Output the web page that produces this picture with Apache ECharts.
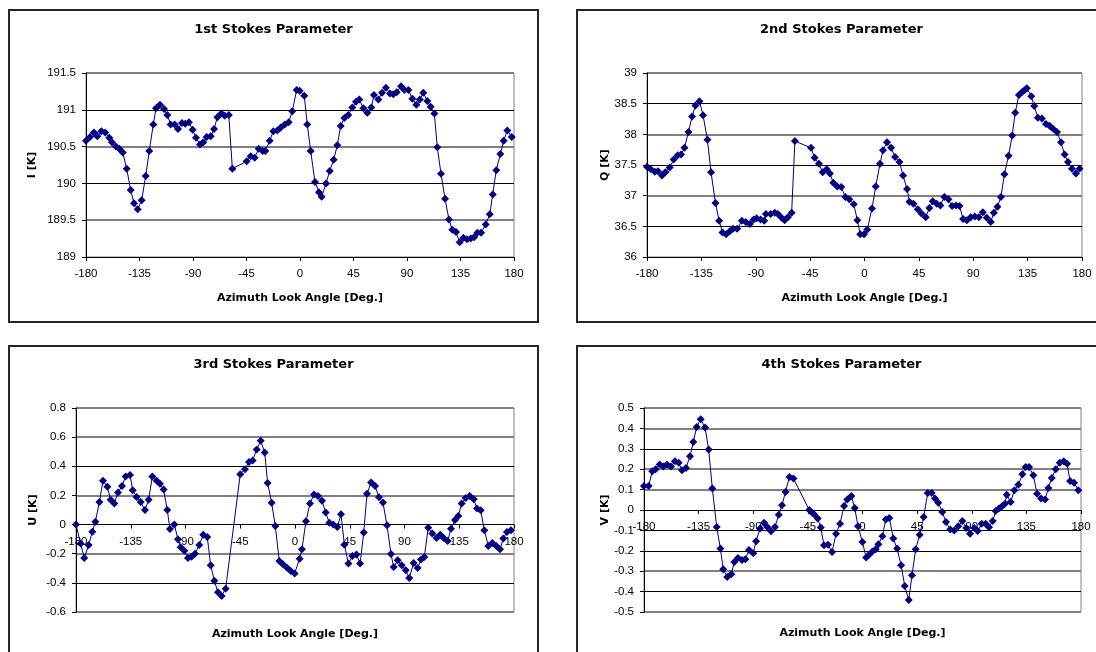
<!DOCTYPE html>
<html>
<head>
<meta charset="utf-8">
<script src="https://cdn.jsdelivr.net/npm/echarts@6/dist/echarts.min.js"></script>
<style>
  html, body { margin: 0; padding: 0; background: #fff; }
  #chart { width: 1096px; height: 652px; }
</style>
</head>
<body>
<div id="chart"></div>
<script>
// Azimuth look angles [deg] and the four Stokes parameters [K]

const azimuthI = [
  -180, -176.6, -173.3, -170.5, -167.1, -163.8, -160.4, -158.2, -154.8, -152,
  -149.1, -145.8, -142.4, -139.6, -136.5, -133.2, -129.8, -126.8, -123.4, -121.1,
  -117.8, -114.4, -111.6, -108.8, -105.4, -102.6, -99.3, -96.5, -93.4, -90.3,
  -87.5, -84.1, -81.3, -78.5, -75.1, -72.3, -69.5, -66.1, -63.3, -59.9,
  -56.9, -44.9, -41.5, -38.1, -34.8, -31.4, -29.2, -25.5, -22.4, -19.1,
  -16.2, -12.9, -9.5, -6.5, -2.8, -0.3, 3.6, 6.1, 9.0, 12.6,
  16.0, 18.2, 21.9, 25.0, 28.3, 31.4, 34.2, 37.3, 40.6, 44.0,
  47.1, 49.9, 53.3, 56.6, 60.0, 62.2, 65.9, 69.0, 72.3, 75.7,
  78.5, 81.3, 85.0, 87.8, 91.2, 94.5, 97.9, 100.7, 103.7, 107.1,
  109.9, 113.0, 115.5, 118.6, 122.0, 125.3, 128.1, 131.2, 134.3, 137.4,
  140.5, 143.6, 146.4, 149.2, 152.3, 156.2, 159.6, 162.1, 165.1, 168.5,
  171.3, 174.4, 178.1
];
const stokesI = [
  190.58, 190.63, 190.69, 190.64, 190.71, 190.69, 190.62, 190.56, 190.50, 190.47,
  190.42, 190.20, 189.91, 189.73, 189.65, 189.77, 190.10, 190.44, 190.80, 191.02,
  191.07, 191.01, 190.93, 190.80, 190.80, 190.74, 190.82, 190.81, 190.83, 190.73,
  190.62, 190.53, 190.56, 190.63, 190.64, 190.74, 190.90, 190.95, 190.92, 190.93,
  190.20, 190.30, 190.37, 190.35, 190.47, 190.44, 190.44, 190.58, 190.71, 190.72,
  190.76, 190.80, 190.83, 190.98, 191.27, 191.26, 191.19, 190.80, 190.44, 190.02,
  189.88, 189.82, 190.00, 190.17, 190.32, 190.52, 190.78, 190.89, 190.93, 191.03,
  191.11, 191.14, 191.02, 190.96, 191.03, 191.20, 191.14, 191.23, 191.30, 191.22,
  191.21, 191.24, 191.32, 191.27, 191.27, 191.15, 191.07, 191.14, 191.23, 191.12,
  191.04, 190.95, 190.49, 190.13, 189.79, 189.51, 189.37, 189.34, 189.20, 189.26,
  189.24, 189.25, 189.27, 189.33, 189.33, 189.44, 189.58, 189.85, 190.18, 190.40,
  190.58, 190.72, 190.63
];

const azimuthQ = [
  -180, -176.9, -173.6, -170.9, -167.6, -164.8, -161.2, -157.9, -154.6, -151.8,
  -149.0, -145.7, -142.7, -139.9, -136.6, -133.6, -130.0, -127.0, -123.3, -120.3,
  -117.5, -114.5, -111.5, -108.7, -105.4, -101.5, -98.2, -94.9, -91.8, -89.3,
  -86.0, -83.0, -81.6, -77.7, -74.2, -71.7, -68.6, -66.1, -63.4, -60.3,
  -57.6, -44.3, -41.3, -37.7, -34.6, -31.3, -28.6, -25.8, -22.5, -19.2,
  -15.9, -12.6, -8.9, -5.9, -3.5, -0.4, 2.3, 6.2, 9.3, 12.8,
  15.3, 18.6, 22.0, 25.3, 28.9, 31.9, 35.2, 37.2, 40.5, 44.1,
  47.1, 50.7, 53.7, 56.5, 59.8, 62.8, 66.1, 69.4, 72.5, 75.8,
  78.6, 81.6, 84.7, 88.0, 91.3, 94.6, 97.9, 101.2, 104.5, 107.0,
  110.0, 112.9, 115.8, 119.2, 122.2, 124.7, 127.8, 130.5, 132.4, 134.4,
  138.0, 140.5, 143.5, 146.8, 150.2, 153.1, 156.0, 159.3, 162.6, 165.6,
  168.4, 171.7, 175.0, 178.0
];
const stokesQ = [
  37.47, 37.43, 37.39, 37.40, 37.33, 37.38, 37.46, 37.59, 37.66, 37.67,
  37.78, 38.04, 38.29, 38.47, 38.54, 38.31, 37.91, 37.38, 36.88, 36.59,
  36.40, 36.37, 36.42, 36.46, 36.46, 36.59, 36.57, 36.54, 36.61, 36.63,
  36.61, 36.59, 36.70, 36.70, 36.72, 36.70, 36.64, 36.60, 36.65, 36.72,
  37.89, 37.78, 37.62, 37.52, 37.38, 37.43, 37.36, 37.21, 37.15, 37.14,
  36.98, 36.94, 36.86, 36.60, 36.37, 36.37, 36.45, 36.79, 37.15, 37.52,
  37.74, 37.87, 37.78, 37.63, 37.55, 37.33, 37.11, 36.90, 36.87, 36.78,
  36.71, 36.65, 36.80, 36.91, 36.87, 36.84, 36.98, 36.94, 36.83, 36.84,
  36.83, 36.62, 36.60, 36.65, 36.66, 36.65, 36.73, 36.64, 36.57, 36.72,
  36.82, 36.98, 37.35, 37.65, 37.98, 38.35, 38.64, 38.69, 38.72, 38.75,
  38.62, 38.46, 38.27, 38.26, 38.17, 38.14, 38.09, 38.04, 37.87, 37.67,
  37.55, 37.44, 37.36, 37.44
];

const azimuthU = [
  -180, -176.2, -173.2, -169.6, -166.6, -164.1, -160.8, -157.8, -154.2, -151.5,
  -148.5, -145.5, -142.2, -139.2, -135.6, -133.4, -130.2, -126.9, -123.3, -120.3,
  -117.3, -113.7, -111.0, -108.0, -105.0, -102.8, -99.2, -96.2, -94.0, -91.0,
  -88.0, -85.0, -82.2, -78.7, -75.4, -72.1, -69.3, -66.3, -63.3, -60.3,
  -57.0, -45.0, -41.1, -37.8, -34.8, -31.5, -28.2, -24.9, -22.5, -19.2,
  -16.2, -12.9, -9.9, -6.6, -3.5, -0.3, 3.8, 5.7, 9.0, 12.3,
  15.6, 18.9, 22.2, 25.2, 28.2, 31.5, 34.8, 37.8, 40.6, 43.9,
  47.2, 50.5, 53.5, 56.5, 59.2, 62.5, 65.8, 69.0, 72.3, 75.6,
  78.9, 81.1, 84.4, 87.7, 91.0, 93.9, 97.5, 100.8, 103.5, 106.3,
  109.5, 112.8, 116.4, 119.4, 122.2, 125.5, 128.2, 131.5, 134.2, 137.0,
  140.3, 143.6, 146.9, 149.6, 152.6, 155.6, 158.9, 162.2, 165.5, 168.5,
  171.2, 174.2, 177.5
];
const stokesU = [
  0.00, -0.13, -0.23, -0.14, -0.05, 0.02, 0.155, 0.30, 0.26, 0.17,
  0.145, 0.22, 0.265, 0.33, 0.34, 0.235, 0.19, 0.155, 0.10, 0.17,
  0.33, 0.30, 0.28, 0.24, 0.10, -0.03, 0.00, -0.10, -0.155, -0.18,
  -0.23, -0.22, -0.20, -0.14, -0.07, -0.085, -0.28, -0.385, -0.465, -0.49,
  -0.44, 0.345, 0.38, 0.43, 0.44, 0.515, 0.575, 0.495, 0.285, 0.15,
  -0.01, -0.25, -0.273, -0.296, -0.318, -0.335, -0.234, -0.17, 0.022, 0.144,
  0.206, 0.196, 0.164, 0.082, 0.013, 0.0, -0.017, 0.07, -0.138, -0.268,
  -0.216, -0.206, -0.268, -0.055, 0.212, 0.288, 0.265, 0.187, 0.151, -0.005,
  -0.202, -0.291, -0.245, -0.28, -0.314, -0.367, -0.264, -0.298, -0.239, -0.223,
  -0.021, -0.062, -0.092, -0.069, -0.092, -0.113, -0.028, 0.031, 0.059, 0.144,
  0.182, 0.196, 0.173, 0.110, 0.098, -0.039, -0.147, -0.127, -0.147, -0.17,
  -0.096, -0.051, -0.039
];

const azimuthV = [
  -180, -176.2, -173.2, -170.4, -167.1, -164.1, -161.1, -157.8, -154.5, -151.4,
  -148.7, -145.4, -142.1, -139.4, -136.6, -133.3, -129.7, -126.7, -123.7, -120.1,
  -117.1, -114.7, -111.4, -108.1, -105.6, -102.6, -99.3, -96.5, -93.5, -90.0,
  -87.7, -84.4, -81.1, -78.4, -75.4, -72.1, -69.0, -66.3, -63.5, -60.2,
  -56.9, -43.8, -41.6, -39.9, -36.9, -34.4, -31.7, -28.4, -25.1, -21.8,
  -18.5, -15.2, -12.5, -9.2, -6.4, -3.7, -0.1, 3.0, 5.4, 8.1,
  10.9, 13.1, 16.4, 19.2, 22.1, 25.4, 28.5, 31.8, 34.8, 38.1,
  40.8, 43.8, 47.1, 50.4, 53.7, 57.0, 59.7, 62.4, 65.7, 68.8,
  72.3, 75.6, 78.9, 82.2, 85.5, 88.6, 92.1, 94.9, 98.2, 101.5,
  104.2, 107.3, 109.7, 112.4, 115.2, 117.4, 118.8, 122.1, 125.1, 128.4,
  131.7, 134.4, 137.2, 140.7, 143.8, 147.1, 150.4, 153.1, 155.9, 159.2,
  162.5, 165.8, 168.5, 171.0, 174.3, 177.8
];
const stokesV = [
  0.118, 0.118, 0.19, 0.20, 0.223, 0.213, 0.223, 0.213, 0.239, 0.232,
  0.195, 0.206, 0.263, 0.333, 0.407, 0.445, 0.404, 0.296, 0.105, -0.083,
  -0.189, -0.291, -0.328, -0.315, -0.255, -0.235, -0.245, -0.242, -0.196, -0.212,
  -0.153, -0.091, -0.062, -0.083, -0.104, -0.083, -0.023, 0.023, 0.088, 0.162,
  0.154, 0.0, -0.013, -0.021, -0.042, -0.086, -0.173, -0.170, -0.206, -0.116,
  -0.067, 0.02, 0.052, 0.069, 0.01, -0.08, -0.157, -0.233, -0.219, -0.203,
  -0.193, -0.168, -0.129, -0.046, -0.039, -0.14, -0.189, -0.271, -0.372, -0.441,
  -0.32, -0.193, -0.121, -0.034, 0.083, 0.083, 0.056, 0.036, -0.01, -0.059,
  -0.095, -0.1, -0.08, -0.054, -0.088, -0.116, -0.088, -0.103, -0.067, -0.067,
  -0.085, -0.054, -0.005, 0.007, 0.02, 0.031, 0.075, 0.039, 0.097, 0.124,
  0.175, 0.211, 0.211, 0.17, 0.080, 0.056, 0.052, 0.108, 0.157, 0.2,
  0.232, 0.239, 0.227, 0.142, 0.134, 0.097
];

const titles = ['1st Stokes Parameter', '2nd Stokes Parameter', '3rd Stokes Parameter', '4th Stokes Parameter'];
const yNames = ['I [K]', 'Q [K]', 'U [K]', 'V [K]'];
const xName = 'Azimuth Look Angle [Deg.]';
const yRanges = [[189, 191.5, 0.5], [36, 39, 0.5], [-0.6, 0.8, 0.2], [-0.5, 0.5, 0.1]];

const FONT = '"Liberation Sans", Arial, sans-serif';
const HEAD_FONT = '"DejaVu Sans", "Liberation Sans", Arial, sans-serif';
const NAVY = '#000080';
const GREY = '#808080';
const BLACK = '#000000';
const NONE = 'rgba(0,0,0,0)';

// Layout of the four framed panels; "rules" lists the gridline tone from
// the bottom line upward (k = thin black, g = heavier grey).
const layout = [
  { box: [9, 10],    grid: { left: 86,  top: 73,  width: 428, height: 184 }, titleY: 23,  yGap: 48, xGap: 36,  rules: 'kgkgkg' },
  { box: [577, 10],  grid: { left: 647, top: 73,  width: 435, height: 184 }, titleY: 23,  yGap: 30, xGap: 36,  rules: 'kkgkgkg' },
  { box: [9, 346],   grid: { left: 76,  top: 408, width: 438, height: 204 }, titleY: 358, yGap: 37, xGap: 104, rules: 'gkgkgkgg' },
  { box: [577, 346], grid: { left: 644, top: 408, width: 437, height: 204 }, titleY: 358, yGap: 32, xGap: 118, rules: 'gkgkkkggkgg' }
];

const angleSets = [azimuthI, azimuthQ, azimuthU, azimuthV];
const valueSets = [stokesI, stokesQ, stokesU, stokesV];

const labelStyle = { color: BLACK, fontSize: 11.5, fontFamily: FONT };
const nameStyle = { color: BLACK, fontSize: 11, fontWeight: 'bold', fontFamily: HEAD_FONT };

// The horizontal axis sits on the zero line when the value range spans zero
function zeroOffset(i) {
  const [lo, hi] = yRanges[i];
  if (lo >= 0 || hi <= 0) return 0;
  return -layout[i].grid.height * (-lo) / (hi - lo);
}

const yAxes = [];
layout.forEach((p, i) => {
  const [lo, hi, step] = yRanges[i];
  const rules = p.rules.split('');
  // main axis: labels, ticks and the thin black gridlines
  yAxes.push({
    type: 'value', gridIndex: i, min: lo, max: hi, interval: step,
    axisLine: { show: true, onZero: false, lineStyle: { color: BLACK, width: 1 } },
    axisTick: { show: true, inside: false, length: 4, lineStyle: { color: BLACK } },
    axisLabel: Object.assign({ margin: 10 }, labelStyle),
    splitLine: { show: true, lineStyle: { color: rules.map(r => r === 'k' ? BLACK : NONE), width: 1 } },
    name: yNames[i], nameLocation: 'middle', nameRotate: 90, nameGap: p.yGap, nameTextStyle: nameStyle
  });
  // companion axis: only the heavier grey gridlines
  yAxes.push({
    type: 'value', gridIndex: i, min: lo, max: hi, interval: step, position: 'left',
    axisLine: { show: false }, axisTick: { show: false }, axisLabel: { show: false },
    splitLine: { show: true, lineStyle: { color: rules.map(r => r === 'g' ? GREY : NONE), width: 2 } }
  });
});

const option = {
  animation: false,
  backgroundColor: '#ffffff',
  title: layout.map((p, i) => ({
    text: titles[i],
    left: p.box[0] + 264.5,
    top: p.titleY,
    textAlign: 'center',
    padding: 0,
    textStyle: { color: BLACK, fontSize: 13, fontWeight: 'bold', fontFamily: HEAD_FONT }
  })),
  graphic: layout.map(p => ({
    type: 'rect',
    shape: { x: p.box[0], y: p.box[1], width: 529, height: 312 },
    style: { fill: 'none', stroke: '#262626', lineWidth: 2 },
    silent: true
  })),
  grid: layout.map(p => Object.assign({
    show: true, borderColor: GREY, borderWidth: 1, backgroundColor: 'transparent',
    containLabel: false, outerBoundsMode: 'none'
  }, p.grid)),
  xAxis: layout.map((p, i) => ({
    type: 'value', gridIndex: i, min: -180, max: 180, interval: 45,
    position: 'bottom', offset: zeroOffset(i),
    axisLine: { show: true, onZero: false, lineStyle: { color: BLACK, width: 1 } },
    axisTick: { show: true, inside: false, length: 4, lineStyle: { color: BLACK } },
    axisLabel: Object.assign({ margin: 11, showMinLabel: true, showMaxLabel: true }, labelStyle),
    splitLine: { show: false },
    name: xName, nameLocation: 'middle', nameGap: p.xGap, nameTextStyle: nameStyle
  })),
  yAxis: yAxes,
  series: layout.map((p, i) => ({
    type: 'line', xAxisIndex: i, yAxisIndex: 2 * i,
    data: angleSets[i].map((a, k) => [a, valueSets[i][k]]),
    symbol: 'diamond', symbolSize: 8, showSymbol: true,
    lineStyle: { color: NAVY, width: 1 },
    itemStyle: { color: NAVY },
    silent: true
  }))
};

const chart = echarts.init(document.getElementById('chart'), null, { renderer: 'canvas' });
chart.setOption(option);
</script>
</body>
</html>
